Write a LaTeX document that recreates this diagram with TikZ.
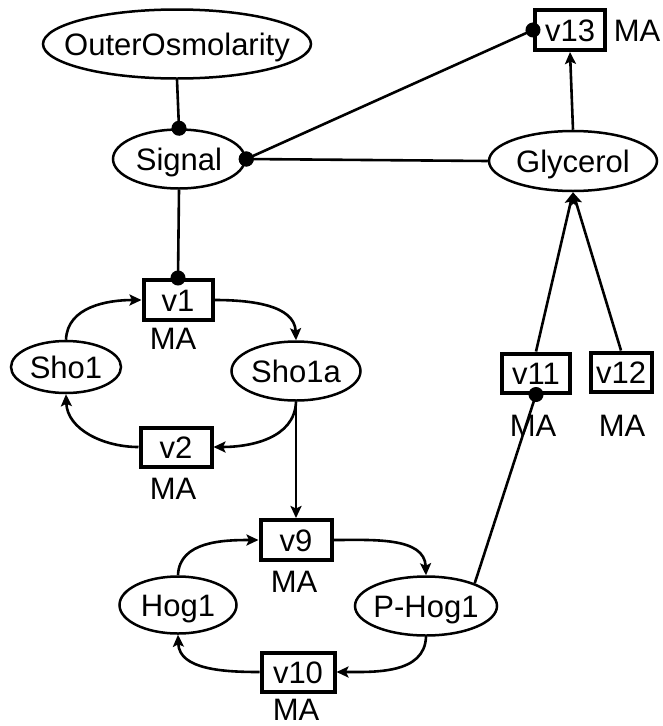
\documentclass[tikz,border=0pt]{standalone}
\usepackage{fontspec}
\setmainfont{Liberation Sans}
\usetikzlibrary{arrows.meta,shapes.geometric}
% zero-width box so the ellipse size is set by its minimum dimensions only
\newcommand\spname[1]{\makebox[0pt]{#1}}
\begin{document}
\begin{tikzpicture}[x=1pt,y=-1pt,
  every node/.style={font=\fontsize{31}{36}\selectfont, inner sep=0pt,
                     text height=22pt, text depth=0pt},
  species/.style 2 args={draw, ellipse, line width=2.5pt,
                         minimum width=#1, minimum height=#2},
  reaction/.style 2 args={draw, rectangle, line width=4pt,
                          minimum width=#1, minimum height=#2},
  law/.style={},
  link/.style={line width=2.6pt},
  arr/.style={link, -{Stealth[length=12pt,width=11pt,inset=2.5pt]}},
  mod/.style={link, -{Circle[length=15pt]}, shorten >=-7.5pt},
]
\useasboundingbox (0,0) rectangle (662,726);

% species
\node[species={268}{69}]   (outer)    at (177,44)  {\spname{OuterOsmolarity}};
\node[species={132}{59}]   (signal)   at (179,159) {\spname{Signal}};
\node[species={168}{60}]   (glycerol) at (573,161) {\spname{Glycerol}};
\node[species={110}{52}]   (sho1)     at (66,367)  {\spname{Sho1}};
\node[species={129}{59}]   (sho1a)    at (296,371) {\spname{Sho1a}};
\node[species={117}{57}]   (hog1)     at (178,605) {\spname{Hog1}};
\node[species={142}{59}]   (phog1)    at (426,606) {\spname{P-Hog1}};

% reactions
\node[reaction={70}{40}] (v13) at (570,30)  {v13};
\node[reaction={69}{40}] (v1)  at (178,300) {v1};
\node[reaction={71}{39}] (v2)  at (176,447) {v2};
\node[reaction={68}{39}] (v11) at (536,373) {v11};
\node[reaction={61}{39}] (v12) at (621,372) {v12};
\node[reaction={71}{40}] (v9)  at (296,540) {v9};
\node[reaction={73}{39}] (v10) at (298,672) {v10};

% kinetic law labels
\node[law] (ma13) at (637,30)  {MA};
\node[law] (ma1)  at (173,338) {MA};
\node[law] (ma2)  at (173,488) {MA};
\node[law] (ma11) at (533,425) {MA};
\node[law] (ma12) at (622,425) {MA};
\node[law] (ma9)  at (294,581) {MA};
\node[law] (ma10) at (296,709) {MA};

% modifiers
\draw[mod] (outer.south) -- (signal.north);
\draw[mod] (signal.south) -- (v1.north);
\draw[mod] (glycerol.west) -- (signal.east);
\draw[link, {Circle[length=15pt]}-{Circle[length=15pt]},
      shorten <=-7.5pt, shorten >=-7.5pt] (signal.east) -- (v13.west);
\draw[mod] (phog1.25) -- (v11.south);

% reactions: Glycerol export and production
\draw[arr] (glycerol.north) -- (v13.south);
\draw[arr] (v11.north) -- (glycerol.south);
\draw[arr] (v12.north) -- (glycerol.south);

% Sho1 cycle
\draw[arr] (sho1.north) to[out=88,in=180] (v1.west);
\draw[arr] (v1.east) to[out=0,in=92] (sho1a.north);
\draw[arr] (sho1a.south) to[out=-92,in=0] (v2.east);
\draw[arr] (v2.west) to[out=180,in=-88] (sho1.south);

% Sho1a activates the Hog1 phosphorylation
\draw[arr] (sho1a.south) -- (v9.north);

% Hog1 cycle
\draw[arr] (hog1.north) to[out=88,in=180] (v9.west);
\draw[arr] (v9.east) to[out=0,in=92] (phog1.north);
\draw[arr] (phog1.south) to[out=-92,in=0] (v10.east);
\draw[arr] (v10.west) to[out=180,in=-88] (hog1.south);
\end{tikzpicture}
\end{document}
